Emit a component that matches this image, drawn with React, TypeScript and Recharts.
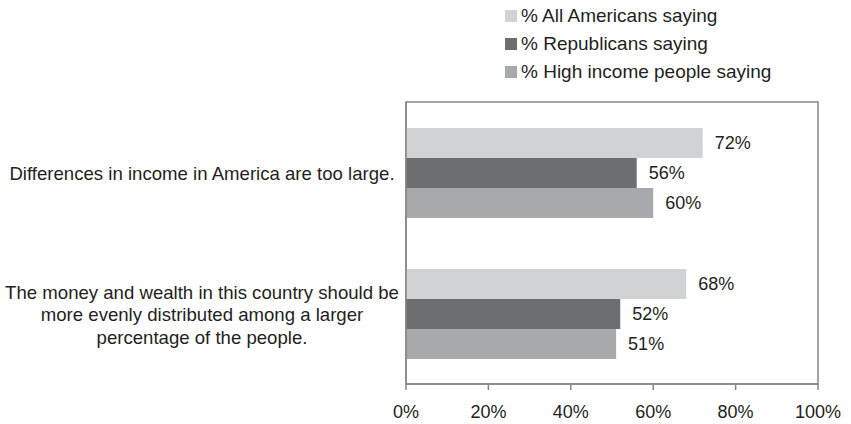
import React from 'react';
import { BarChart, Bar, XAxis, YAxis, LabelList, ReferenceArea } from 'recharts';

const categoryLines: string[][] = [
  ['Differences in income in America are too large.'],
  [
    'The money and wealth in this country should be',
    'more evenly distributed among a larger',
    'percentage of the people.',
  ],
];
const allAmericans = [72, 68];
const republicans = [56, 52];
const highIncome = [60, 51];
const xTicks = [0, 20, 40, 60, 80, 100];

const seriesNames = ['% All Americans saying', '% Republicans saying', '% High income people saying'];
const seriesColors = ['#d1d2d4', '#6d6e70', '#a7a9ac'];

const data = categoryLines.map((lines, i) => ({
  name: lines.join(' '),
  all: allAmericans[i],
  rep: republicans[i],
  high: highIncome[i],
}));

const FONT = '"Liberation Sans", Arial, Helvetica, sans-serif';
const TEXT = '#231f20';
const AXIS = '#878787';

const CategoryTick = ({ x, y, payload }: any) => {
  const idx = categoryLines.findIndex((l) => l.join(' ') === payload.value);
  const lines = categoryLines[idx] || [payload.value];
  const lineH = 22.5;
  const cx = x - 196;
  const startY = y + 1 - ((lines.length - 1) * lineH) / 2;
  return (
    <text x={cx} y={startY} textAnchor="middle" fill={TEXT} fontSize={18.6} fontFamily={FONT}>
      {lines.map((line, i) => (
        <tspan key={i} x={cx} y={startY + i * lineH} dy="0.35em">
          {line}
        </tspan>
      ))}
    </text>
  );
};

const pct = (v: any) => `${v}%`;

export default function App() {
  return (
    <div style={{ position: 'absolute', left: 0, top: 0, width: 851, height: 424, fontFamily: FONT }}>
      <div style={{ position: 'absolute', left: 505, top: 2 }}>
        {seriesNames.map((name, i) => (
          <div key={name} style={{ display: 'flex', alignItems: 'center', height: 28, color: TEXT, fontSize: 19 }}>
            <span style={{ width: 12, height: 12, background: seriesColors[i], marginRight: 4, display: 'inline-block' }} />
            {name}
          </div>
        ))}
      </div>
      <BarChart
        width={851}
        height={424}
        data={data}
        layout="vertical"
        margin={{ top: 102, right: 33, bottom: 10, left: 0 }}
        barGap={0}
      >
        <ReferenceArea x1={0} x2={100} fill="none" stroke={AXIS} strokeWidth={1.5} ifOverflow="visible" />
        <XAxis
          type="number"
          domain={[0, 100]}
          ticks={xTicks}
          tickFormatter={pct}
          axisLine={{ stroke: AXIS, strokeWidth: 1.5 }}
          tickLine={{ stroke: AXIS, strokeWidth: 1.5 }}
          tickSize={6}
          tickMargin={15}
          height={30}
          tick={{ fill: TEXT, fontSize: 18, fontFamily: FONT }}
        />
        <YAxis
          type="category"
          dataKey="name"
          width={406}
          axisLine={{ stroke: AXIS, strokeWidth: 1.5 }}
          tickLine={false}
          tick={<CategoryTick />}
        />
        <Bar dataKey="all" fill={seriesColors[0]} barSize={30} isAnimationActive={false}>
          <LabelList dataKey="all" position="right" offset={12} formatter={pct} fill={TEXT} fontSize={18} fontFamily={FONT} />
        </Bar>
        <Bar dataKey="rep" fill={seriesColors[1]} barSize={30} isAnimationActive={false}>
          <LabelList dataKey="rep" position="right" offset={12} formatter={pct} fill={TEXT} fontSize={18} fontFamily={FONT} />
        </Bar>
        <Bar dataKey="high" fill={seriesColors[2]} barSize={30} isAnimationActive={false}>
          <LabelList dataKey="high" position="right" offset={12} formatter={pct} fill={TEXT} fontSize={18} fontFamily={FONT} />
        </Bar>
      </BarChart>
    </div>
  );
}
